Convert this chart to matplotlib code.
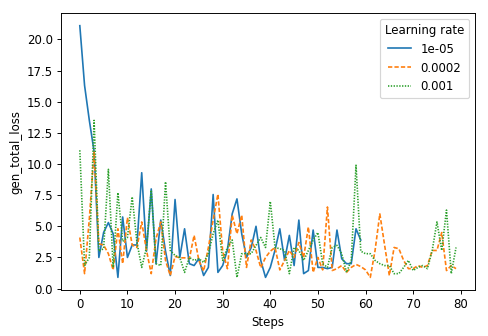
import matplotlib
matplotlib.use("Agg")
import matplotlib.pyplot as plt
import numpy as np

labels = ["1e-05", "0.0002", "0.001"]

loss_1e05 = [21.1, 16.3, 13.5, 11.0, 2.5, 4.5, 5.3, 4.4, 0.9, 5.75,
             2.5, 3.5, 3.5, 9.3, 3.0, 8.0, 2.0, 5.5, 3.0, 1.05,
             7.15, 2.5, 4.8, 2.0, 1.85, 2.4, 1.05, 1.7, 7.55, 1.3,
             1.85, 3.1, 6.0, 7.2, 4.4, 2.5, 3.3, 5.0, 2.26, 0.9,
             1.7, 3.1, 4.8, 2.26, 4.27, 1.85, 5.5, 1.2, 1.45, 4.7,
             1.7, 1.7, 1.6, 1.7, 4.7, 2.4, 2.0, 2.0, 4.8, 3.9]

loss_2e04 = [4.1, 1.2, 5.6, 11.0, 3.6, 3.5, 2.8, 1.5, 4.8, 2.0,
             5.7, 3.5, 3.3, 5.35, 3.06, 1.2, 4.0, 5.35, 2.26, 1.05,
             2.58, 2.47, 2.47, 2.4, 4.27, 2.26, 1.4, 3.3, 5.5, 7.58,
             3.0, 1.6, 5.9, 4.4, 5.9, 1.7, 3.9, 3.06, 1.67, 2.5,
             3.0, 3.3, 1.5, 2.26, 3.06, 2.5, 3.7, 2.5, 4.95, 1.3,
             2.5, 1.5, 6.55, 1.45, 1.6, 1.85, 1.3, 1.7, 1.94, 1.77,
             1.5, 0.9, 3.06, 6.0, 3.5, 1.05, 3.3, 3.2, 2.26, 1.6,
             1.6, 1.85, 1.7, 1.85, 3.06, 3.06, 4.5, 1.45, 1.85, 1.6]

loss_1e03 = [11.1, 1.85, 2.5, 13.5, 3.0, 3.2, 9.57, 1.7, 7.7, 3.8,
             4.1, 7.36, 3.7, 1.7, 3.3, 7.9, 2.0, 1.85, 8.57, 3.06,
             2.66, 2.5, 1.3, 2.5, 2.26, 2.4, 2.1, 2.8, 4.4, 5.5,
             2.26, 3.3, 3.9, 0.9, 2.8, 2.8, 2.8, 3.47, 4.1, 3.3,
             7.0, 3.3, 3.2, 3.06, 1.2, 3.3, 3.06, 2.26, 3.06, 3.9,
             4.5, 2.0, 1.7, 3.3, 3.47, 2.8, 1.3, 2.26, 9.9, 3.0,
             2.8, 2.8, 2.26, 2.0, 1.85, 1.85, 1.2, 1.2, 1.7, 2.26,
             1.45, 1.7, 1.85, 1.6, 3.06, 5.35, 3.06, 6.3, 1.2, 3.3]

series = [loss_1e05, loss_2e04, loss_1e03]
colors = ["#1f77b4", "#ff7f0e", "#2ca02c"]
styles = ["-", (0, (2.6, 1.3)), (0, (0.8, 0.9))]

DPI = 85
fig = plt.figure(figsize=(488 / DPI, 336 / DPI), dpi=DPI)
ax = fig.add_axes([0.125, 0.137, 0.848, 0.824])
for lab, ys, c, ls in zip(labels, series, colors, styles):
    ax.plot(np.arange(len(ys)), ys, color=c, linestyle=ls, linewidth=1.4, label=lab)

ax.set_xticks(np.arange(0, 81, 10))
ax.set_yticks(np.arange(0, 20.1, 2.5))
ax.set_xlabel("Steps")
ax.set_ylabel("gen_total_loss")
ax.legend(title="Learning rate", loc="upper right")
fig.savefig("out.png", dpi=DPI)
